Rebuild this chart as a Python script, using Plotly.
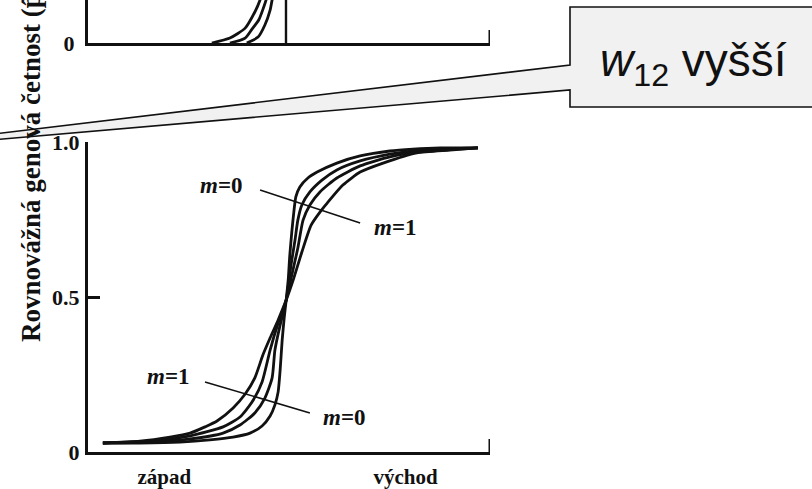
import plotly.graph_objects as go

# ---------------- data ----------------
# bottom panel: four equilibrium clines, m = 0 (steepest) ... m = 1 (smoothest)
m0_x = [0.037, 0.129, 0.229, 0.303, 0.361, 0.403, 0.433, 0.453, 0.465, 0.473, 0.478, 0.483, 0.488,
        0.493, 0.498, 0.502, 0.507, 0.512, 0.517, 0.527, 0.547, 0.570, 0.619, 0.677, 0.751, 0.808, 0.876, 0.970]
m0_y = [0.029, 0.029, 0.032, 0.039, 0.048, 0.061, 0.084, 0.116, 0.152, 0.194, 0.265, 0.361, 0.432,
        0.490, 0.555, 0.635, 0.710, 0.774, 0.823, 0.855, 0.884, 0.903, 0.932, 0.955, 0.971, 0.977, 0.981, 0.981]

mB_x = [0.037, 0.154, 0.254, 0.336, 0.378, 0.415, 0.440, 0.458, 0.465, 0.478, 0.493, 0.505, 0.515,
        0.522, 0.532, 0.552, 0.582, 0.619, 0.677, 0.751, 0.826, 0.970]
mB_y = [0.029, 0.032, 0.042, 0.061, 0.087, 0.126, 0.174, 0.239, 0.329, 0.410, 0.490, 0.603, 0.684,
        0.748, 0.797, 0.839, 0.877, 0.910, 0.939, 0.961, 0.974, 0.981]

mC_x = [0.037, 0.154, 0.254, 0.336, 0.378, 0.408, 0.433, 0.453, 0.473, 0.493, 0.507, 0.522, 0.535,
        0.552, 0.577, 0.619, 0.677, 0.751, 0.826, 0.970]
mC_y = [0.029, 0.035, 0.052, 0.081, 0.113, 0.161, 0.226, 0.329, 0.416, 0.490, 0.571, 0.658, 0.748,
        0.797, 0.839, 0.884, 0.923, 0.952, 0.968, 0.981]

m1_x = [0.037, 0.129, 0.204, 0.254, 0.291, 0.321, 0.361, 0.391, 0.415, 0.435, 0.453, 0.473, 0.493,
        0.512, 0.532, 0.555, 0.577, 0.595, 0.634, 0.677, 0.734, 0.818, 0.900, 0.970]
m1_y = [0.029, 0.035, 0.048, 0.061, 0.081, 0.100, 0.142, 0.187, 0.239, 0.313, 0.368, 0.426, 0.490,
        0.561, 0.645, 0.732, 0.774, 0.803, 0.861, 0.903, 0.932, 0.965, 0.974, 0.981]

bottom_curves = [(m0_x, m0_y), (mB_x, mB_y), (mC_x, mC_y), (m1_x, m1_y)]

# top panel (only its lowest strip is visible)
top1_x = [0.308, 0.353, 0.391, 0.415, 0.428, 0.435]
top1_y = [0.000, 0.016, 0.048, 0.100, 0.139, 0.171]
top2_x = [0.353, 0.391, 0.408, 0.425, 0.443, 0.448]
top2_y = [0.000, 0.016, 0.045, 0.075, 0.139, 0.171]
top3_x = [0.395, 0.423, 0.440, 0.453, 0.458, 0.463]
top3_y = [0.000, 0.019, 0.058, 0.106, 0.139, 0.171]
top_curves = [(top1_x, top1_y), (top2_x, top2_y), (top3_x, top3_y)]
top_divider_x = 0.4925

y_ticks = [0, 0.5, 1.0]
y_ticktext = ["0", "0.5", "1.0"]
x_tickvals = [0.19, 0.79]
x_ticktext = ["západ", "východ"]

# curve labels: (text, x, y)
curve_labels = [("<i>m</i>=0", 0.333, 0.861), ("<i>m</i>=1", 0.766, 0.723),
                ("<i>m</i>=1", 0.199, 0.242), ("<i>m</i>=0", 0.639, 0.110)]
# leader lines: (x0, y0, x1, y1)
leaders = [(0.428, 0.845, 0.677, 0.739), (0.291, 0.226, 0.552, 0.126)]

callout_text = "<i>w</i><sub>12</sub> vyšší"
y_title = "Rovnovážná genová četnost (p̂)"

# ---------------- figure ----------------
W, H = 812, 489
ML, MR, MT, MB = 88, 322, 0, 37
PW, PH = W - ML - MR, H - MT - MB


def px(xp):
    return (xp - ML) / PW


def py(yp):
    return (H - MB - yp) / PH


SERIF = "Liberation Serif, Times New Roman, serif"
fig = go.Figure()

for xs, ys in bottom_curves:
    fig.add_trace(go.Scatter(x=xs, y=ys, mode="lines", line=dict(color="#111", width=2.8, shape="spline", smoothing=0.6),
                             xaxis="x", yaxis="y", showlegend=False, hoverinfo="skip"))
for xs, ys in top_curves:
    fig.add_trace(go.Scatter(x=xs, y=ys, mode="lines", line=dict(color="#111", width=2.8, shape="spline", smoothing=0.6),
                             xaxis="x2", yaxis="y2", showlegend=False, hoverinfo="skip"))
fig.add_trace(go.Scatter(x=[top_divider_x, top_divider_x], y=[0, 0.2], mode="lines",
                         line=dict(color="#111", width=2.4), xaxis="x2", yaxis="y2",
                         showlegend=False, hoverinfo="skip"))

bottom_top = py(142)
top_bottom = py(43)

axis_common = dict(showgrid=False, zeroline=False, showline=True, linecolor="#111", linewidth=3, automargin=False)
fig.update_layout(
    width=W, height=H, margin=dict(l=ML, r=MR, t=MT, b=MB, autoexpand=False),
    paper_bgcolor="white", plot_bgcolor="rgba(0,0,0,0)",
    xaxis=dict(domain=[0, 1], range=[0, 1], anchor="y", tickvals=x_tickvals, ticktext=x_ticktext,
               ticks="", ticklabelstandoff=4,
               tickfont=dict(family=SERIF, size=21, color="#111", weight="bold"), **axis_common),
    yaxis=dict(domain=[0, bottom_top], range=[0, 1], anchor="x", tickvals=y_ticks, ticktext=y_ticktext,
               ticks="inside", ticklen=12, tickwidth=3, tickcolor="#111", ticklabelstandoff=1,
               tickfont=dict(family=SERIF, size=22, color="#111", weight="bold"), **axis_common),
    xaxis2=dict(domain=[0, 1], range=[0, 1], anchor="y2", showticklabels=False, ticks="", **axis_common),
    yaxis2=dict(domain=[top_bottom, 1], range=[0, 43 / 310], anchor="x2", tickvals=[0], ticktext=["0"],
                ticks="", ticklabelstandoff=6,
                tickfont=dict(family=SERIF, size=22, color="#111", weight="bold"), **axis_common),
)

shapes = []
# right-end axis ticks
shapes.append(dict(type="line", xref="x", yref="y", x0=1, x1=1, y0=0, y1=0.042, line=dict(color="#111", width=3)))
shapes.append(dict(type="line", xref="x2", yref="y2", x0=1, x1=1, y0=0, y1=0.042, line=dict(color="#111", width=3)))
for x0, y0, x1, y1 in leaders:
    shapes.append(dict(type="line", xref="x", yref="y", x0=x0, y0=y0, x1=x1, y1=y1, line=dict(color="#111", width=1.6)))
# callout box with pointer
pts = [(570, 7), (830, 7), (830, 107), (570, 107), (570, 90), (-182, 155), (570, 65)]
path = "M " + " L ".join(f"{px(a):.4f},{py(b):.4f}" for a, b in pts) + " Z"
shapes.append(dict(type="path", xref="paper", yref="paper", path=path, fillcolor="#f1f1f1",
                   line=dict(color="#111", width=1.6), layer="above"))
fig.update_layout(shapes=shapes)

ann = []
for t, x, y in curve_labels:
    ann.append(dict(text=t, x=x, y=y, xref="x", yref="y", showarrow=False,
                    font=dict(family=SERIF, size=23, color="#111", weight="bold")))
ann.append(dict(text=callout_text, x=px(598), y=py(32), xref="paper", yref="paper", showarrow=False,
                xanchor="left",
                font=dict(family="Liberation Sans, Arial, sans-serif", size=46, color="#111")))
ann.append(dict(text=y_title, textangle=-90, x=px(31), y=py(344), xref="paper", yref="paper",
                xanchor="center", yanchor="bottom", showarrow=False,
                font=dict(family=SERIF, size=27, color="#111", weight="bold")))
fig.update_layout(annotations=ann)

fig.write_html("out.html", config={"displayModeBar": False},
               post_script="document.body.style.margin='0';document.body.style.overflow='hidden';")
